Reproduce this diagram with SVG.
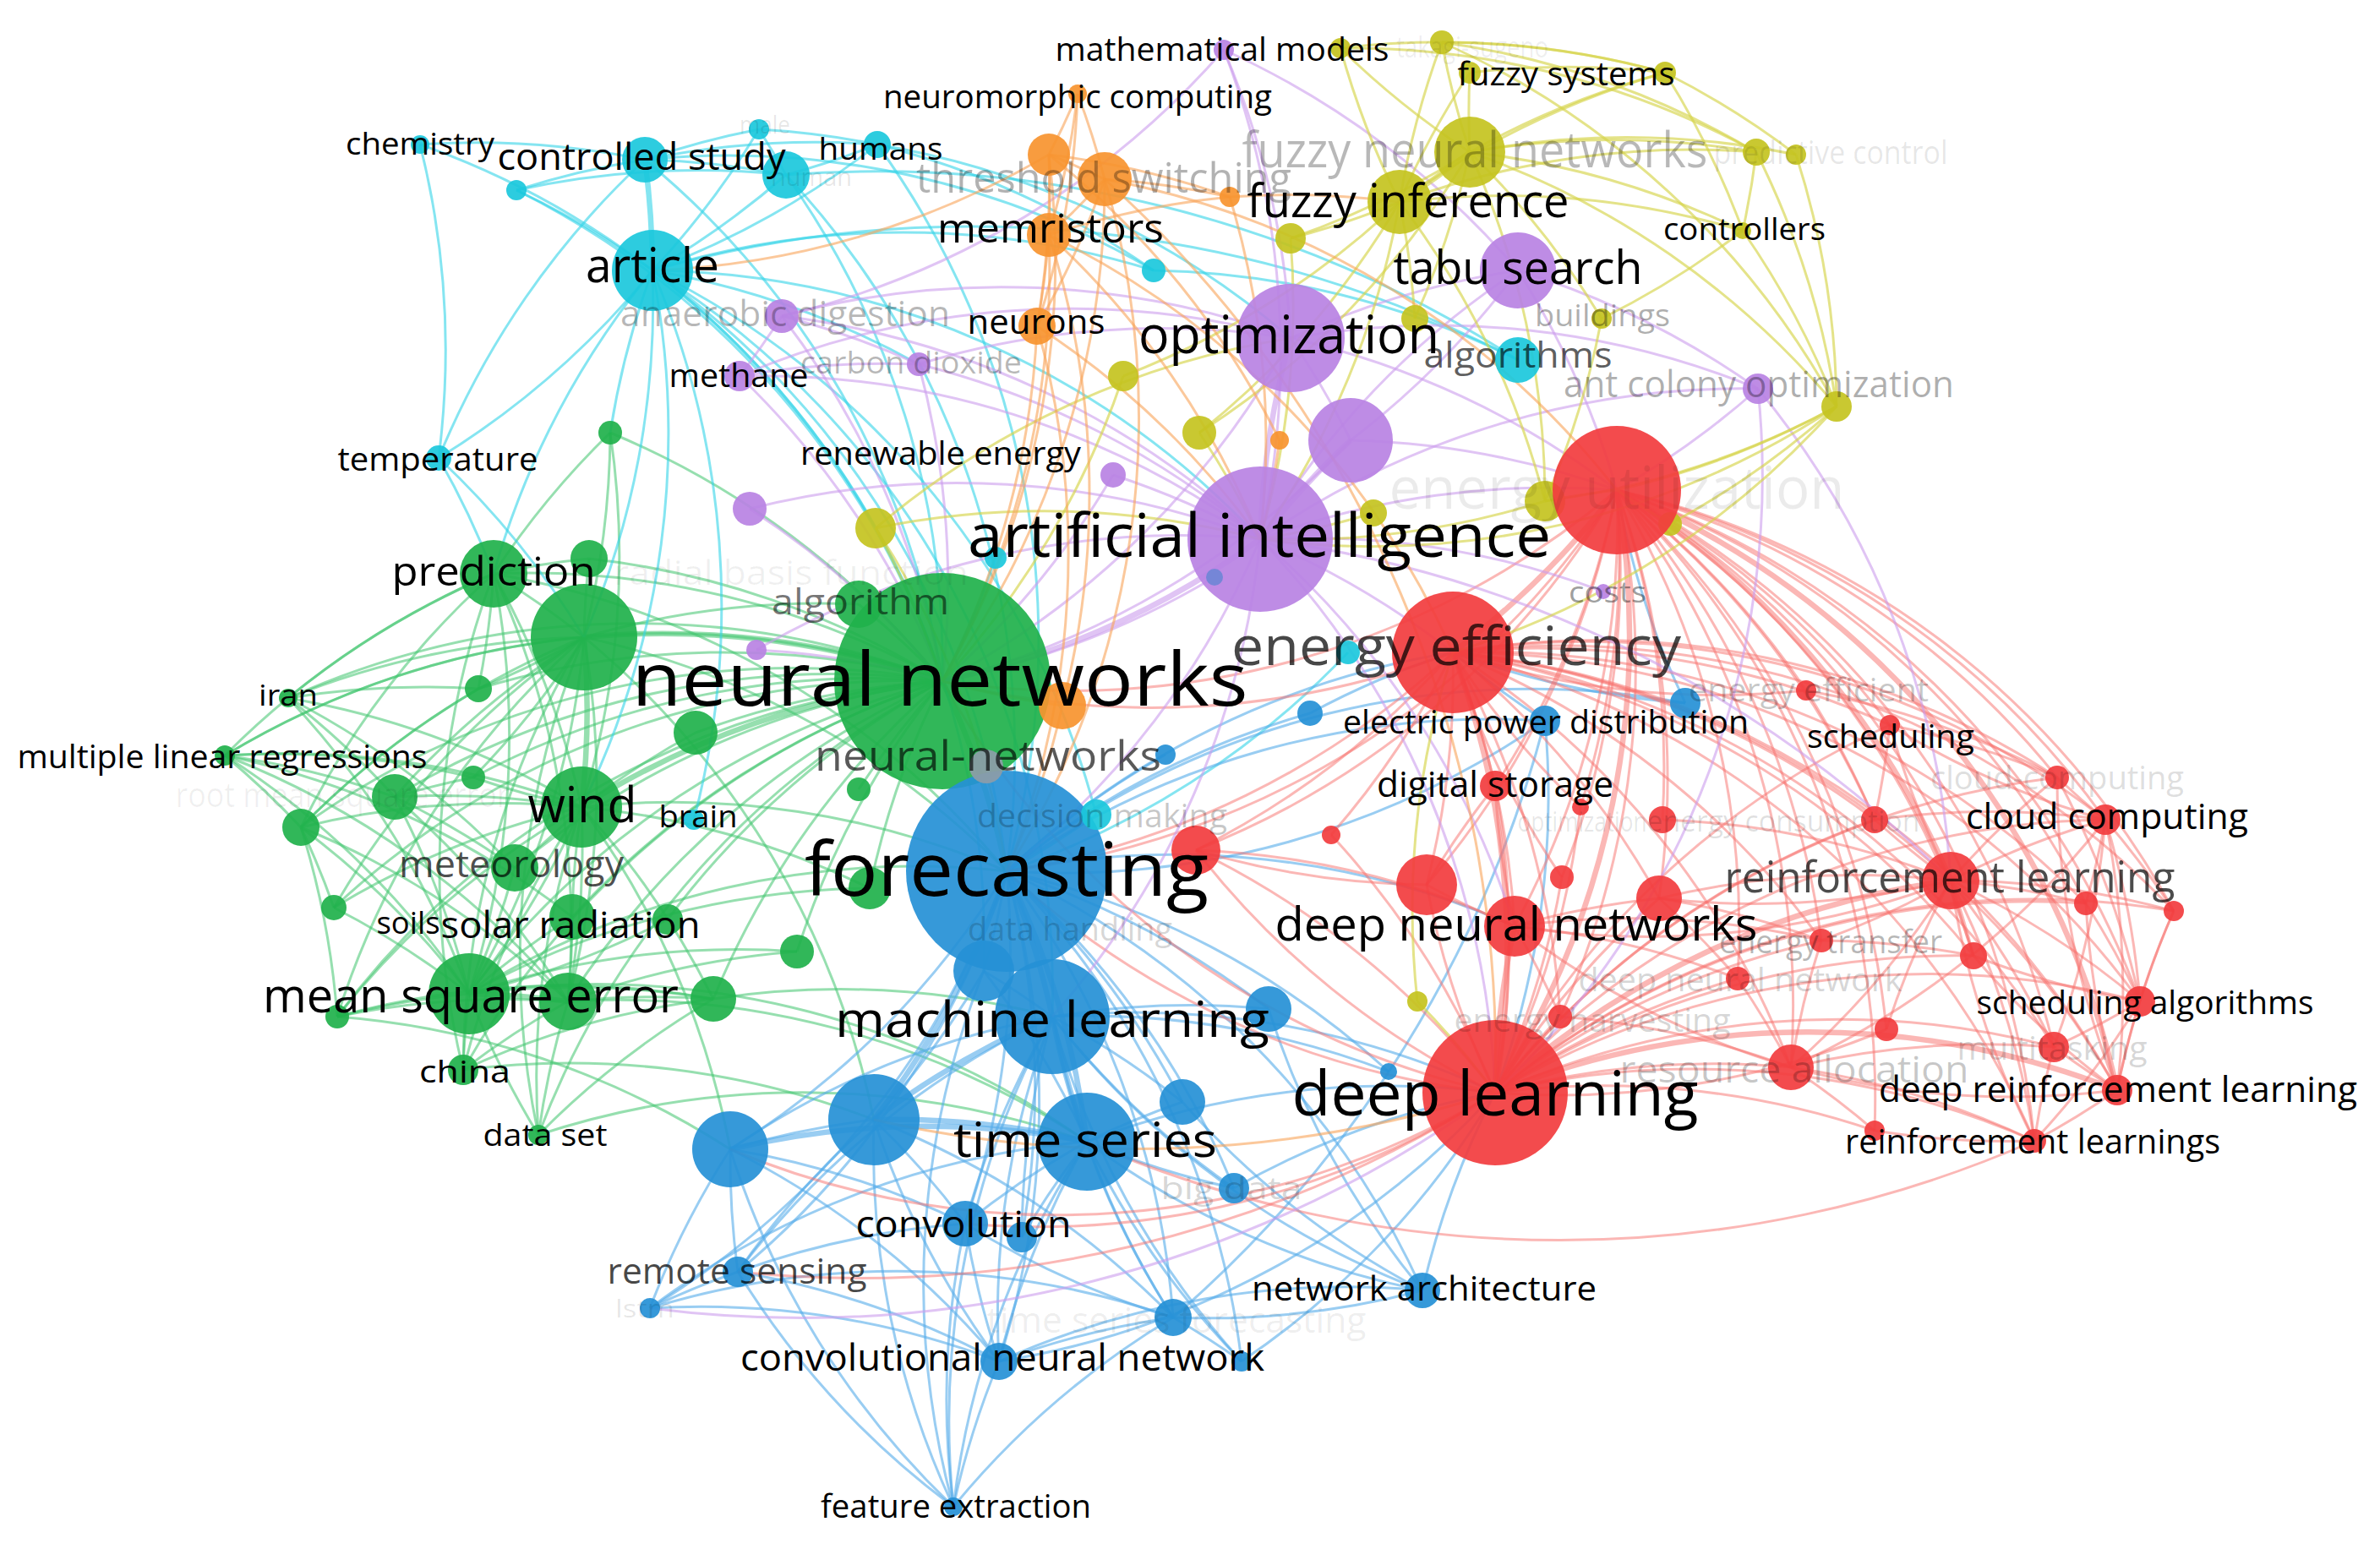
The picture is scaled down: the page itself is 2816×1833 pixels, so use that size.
<svg xmlns="http://www.w3.org/2000/svg" width="2816" height="1833" viewBox="0 0 2816 1833">
<style>
.e path{fill:none;stroke-width:3}
.e .t{stroke-width:6.5}
.g path{stroke:#3fc46e;stroke-opacity:.55}
.c path{stroke:#33d3e8;stroke-opacity:.6}
.b path{stroke:#55acea;stroke-opacity:.6}
.r path{stroke:#f7706c;stroke-opacity:.5}
.p path{stroke:#cc9ded;stroke-opacity:.6}
.y path{stroke:#d6d44a;stroke-opacity:.65}
.o path{stroke:#f9a458;stroke-opacity:.6}
circle{fill-opacity:.92}
.R{fill:#f23c3e}.G{fill:#20b14b}.B{fill:#2590d6}.C{fill:#1bc8dc}.P{fill:#b982e3}.Y{fill:#c4c31f}.O{fill:#f7942f}
text{font-family:"Open Sans","Noto Sans","DejaVu Sans",sans-serif;text-anchor:middle;fill:#000}
</style>
<g id="connectors" class="e">
<g class="g">
<path d="M341 826A1000 1000 0 0 1 691 754"/><path d="M341 826A1000 1000 0 0 1 1115 806"/><path d="M341 826A1000 1000 0 0 1 688 955"/><path d="M341 826A1000 1000 0 0 1 555 1176"/><path d="M341 826A1000 1000 0 0 1 584 679"/><path d="M341 826A1000 1000 0 0 1 467 943"/><path d="M341 826A1000 1000 0 0 1 609 1027"/><path d="M341 826A1000 1000 0 0 1 566 815"/>
<path d="M266 894A1000 1000 0 0 1 691 754"/><path d="M266 894A1000 1000 0 0 1 1115 806"/><path d="M266 894A1000 1000 0 0 1 688 955"/><path d="M266 894A1000 1000 0 0 1 555 1176"/><path d="M266 894A1000 1000 0 0 1 467 943"/><path d="M266 894A1000 1000 0 0 1 356 979"/><path d="M266 894A1000 1000 0 0 1 584 679"/><path d="M266 894A1000 1000 0 0 1 672 1185"/><path d="M266 894A1000 1000 0 0 1 677 1085"/><path d="M266 894A1000 1000 0 0 1 560 920"/>
<path d="M356 979A1000 1000 0 0 1 691 754"/><path d="M356 979A1000 1000 0 0 1 1115 806"/><path d="M356 979A1000 1000 0 0 1 688 955"/><path d="M356 979A1000 1000 0 0 1 555 1176"/><path d="M356 979A1000 1000 0 0 1 399 1203"/><path d="M356 979A1000 1000 0 0 1 395 1074"/><path d="M356 979A1000 1000 0 0 1 584 679"/><path d="M356 979A1000 1000 0 0 1 672 1185"/><path d="M356 979A1000 1000 0 0 1 566 815"/>
<path d="M467 943A1000 1000 0 0 1 691 754"/><path d="M467 943A1000 1000 0 0 1 1115 806"/><path d="M467 943A1000 1000 0 0 1 688 955"/><path d="M467 943A1000 1000 0 0 1 555 1176"/><path d="M467 943A1000 1000 0 0 1 609 1027"/><path d="M467 943A1000 1000 0 0 1 672 1185"/><path d="M467 943A1000 1000 0 0 1 560 920"/>
<path d="M395 1074A1000 1000 0 0 1 691 754"/><path d="M395 1074A1000 1000 0 0 1 1115 806"/><path d="M395 1074A1000 1000 0 0 1 555 1176"/><path d="M395 1074A1000 1000 0 0 1 688 955"/>
<path d="M399 1203A1000 1000 0 0 1 1115 806"/><path d="M399 1203A1000 1000 0 0 1 691 754"/><path d="M399 1203A1000 1000 0 0 1 555 1176"/><path d="M399 1203A1000 1000 0 0 1 688 955"/><path d="M399 1203A1000 1000 0 0 1 672 1185"/><path d="M399 1203A1000 1000 0 0 1 844 1182"/>
<path d="M548 1266A1000 1000 0 0 1 691 754"/><path d="M548 1266A1000 1000 0 0 1 1115 806"/><path d="M548 1266A1000 1000 0 0 1 688 955"/><path d="M548 1266A1000 1000 0 0 1 555 1176"/><path d="M548 1266A1000 1000 0 0 1 672 1185"/><path d="M548 1266A1000 1000 0 0 1 584 679"/><path d="M548 1266A1000 1000 0 0 1 844 1182"/>
<path d="M637 1343A1000 1000 0 0 1 1115 806"/><path d="M637 1343A1000 1000 0 0 1 691 754"/><path d="M637 1343A1000 1000 0 0 1 688 955"/><path d="M637 1343A1000 1000 0 0 1 555 1176"/><path d="M637 1343A1000 1000 0 0 1 672 1185"/><path d="M637 1343A1000 1000 0 0 1 844 1182"/>
<path d="M584 679A1000 1000 0 0 1 1115 806"/><path d="M584 679A1000 1000 0 0 1 691 754"/><path d="M584 679A1000 1000 0 0 1 688 955"/><path d="M584 679A1000 1000 0 0 1 555 1176"/><path d="M584 679A1000 1000 0 0 1 672 1185"/><path d="M584 679A1000 1000 0 0 1 722 512"/><path d="M584 679A1000 1000 0 0 1 697 661"/><path d="M584 679A1000 1000 0 0 1 566 815"/>
<path class="t" d="M691 754A1000 1000 0 0 1 1115 806"/><path class="t" d="M691 754A1000 1000 0 0 1 688 955"/><path d="M691 754A1000 1000 0 0 1 555 1176"/><path d="M691 754A1000 1000 0 0 1 672 1185"/><path d="M691 754A1000 1000 0 0 1 697 661"/><path d="M691 754A1000 1000 0 0 1 1016 715"/><path d="M691 754A1000 1000 0 0 1 566 815"/><path d="M691 754A1000 1000 0 0 1 560 920"/>
<path class="t" d="M688 955A1000 1000 0 0 1 1115 806"/><path d="M688 955A1000 1000 0 0 1 555 1176"/><path d="M688 955A1000 1000 0 0 1 672 1185"/><path d="M688 955A1000 1000 0 0 1 609 1027"/><path d="M688 955A1000 1000 0 0 1 844 1182"/><path d="M688 955A1000 1000 0 0 1 560 920"/><path d="M688 955A1000 1000 0 0 1 823 867"/><path d="M688 955A1000 1000 0 0 1 1029 1051"/>
<path d="M555 1176A1000 1000 0 0 1 1115 806"/><path class="t" d="M555 1176A1000 1000 0 0 1 672 1185"/><path d="M555 1176A1000 1000 0 0 1 844 1182"/><path d="M555 1176A1000 1000 0 0 1 943 1126"/><path d="M555 1176A1000 1000 0 0 1 677 1085"/><path d="M555 1176A1000 1000 0 0 1 1029 1051"/><path d="M609 1027A1000 1000 0 0 1 555 1176"/><path d="M790 1088A1000 1000 0 0 1 555 1176"/>
<path d="M672 1185A1000 1000 0 0 1 1115 806"/><path d="M672 1185A1000 1000 0 0 1 844 1182"/><path d="M672 1185A1000 1000 0 0 1 943 1126"/><path d="M844 1182A1000 1000 0 0 1 1115 806"/><path d="M943 1126A1000 1000 0 0 1 1115 806"/><path d="M1029 1051A1000 1000 0 0 1 1115 806"/><path d="M823 867A1000 1000 0 0 1 1115 806"/><path d="M566 815A1000 1000 0 0 1 1115 806"/><path d="M560 920A1000 1000 0 0 1 1115 806"/><path d="M609 1027A1000 1000 0 0 1 1115 806"/><path d="M677 1085A1000 1000 0 0 1 1115 806"/><path d="M790 1088A1000 1000 0 0 1 1115 806"/><path d="M677 1085A1000 1000 0 0 1 688 955"/><path d="M677 1085A1000 1000 0 0 1 672 1185"/><path d="M1016 934A1000 1000 0 0 1 1115 806"/><path d="M1016 715A1000 1000 0 0 1 1115 806"/>
<path d="M722 512A1000 1000 0 0 1 1115 806"/><path d="M722 512A1000 1000 0 0 1 691 754"/><path d="M722 512A1000 1000 0 0 1 688 955"/><path d="M697 661A1000 1000 0 0 1 1115 806"/>
<path d="M555 1176A1000 1000 0 0 1 1286 1351"/><path d="M691 754A1000 1000 0 0 1 1034 1325"/><path d="M688 955A1000 1000 0 0 1 864 1360"/><path d="M672 1185A1000 1000 0 0 1 1286 1351"/><path d="M555 1176A1000 1000 0 0 1 1191 1031"/><path d="M688 955A1000 1000 0 0 1 1191 1031"/><path d="M691 754A1000 1000 0 0 1 1191 1031"/><path d="M584 679A1000 1000 0 0 1 1191 1031"/><path d="M548 1266A1000 1000 0 0 1 1034 1325"/><path d="M399 1203A1000 1000 0 0 1 864 1360"/><path class="t" d="M1115 806A1000 1000 0 0 1 1191 1031"/><path d="M637 1343A1000 1000 0 0 1 1286 1351"/><path d="M844 1182A1000 1000 0 0 1 1245 1203"/>
</g>
<g class="c">
<path d="M497 171A1000 1000 0 0 1 763 189"/><path d="M497 171A1000 1000 0 0 1 772 320"/><path class="t" d="M763 189A1000 1000 0 0 1 772 320"/><path d="M763 189A1000 1000 0 0 1 930 207"/><path d="M763 189A1000 1000 0 0 1 1038 171"/><path d="M763 189A1000 1000 0 0 1 898 153"/><path d="M611 225A1000 1000 0 0 1 763 189"/><path d="M611 225A1000 1000 0 0 1 772 320"/><path d="M611 225A1000 1000 0 0 1 930 207"/><path d="M930 207A1000 1000 0 0 1 772 320"/><path d="M1038 171A1000 1000 0 0 1 772 320"/><path d="M898 153A1000 1000 0 0 1 772 320"/><path d="M1038 171A1000 1000 0 0 1 930 207"/><path d="M898 153A1000 1000 0 0 1 930 207"/><path d="M1038 171A1000 1000 0 0 1 1365 320"/><path d="M772 320A1000 1000 0 0 1 1365 320"/><path d="M772 320A1000 1000 0 0 1 1115 806"/><path d="M772 320A1000 1000 0 0 1 1191 1031"/><path d="M772 320A1000 1000 0 0 1 691 754"/><path d="M772 320A1000 1000 0 0 1 519 542"/><path d="M519 542A1000 1000 0 0 1 763 189"/><path d="M772 320A1400 1400 0 0 1 1796 426"/><path d="M763 189A1000 1000 0 0 1 1115 806"/><path d="M930 207A1000 1000 0 0 1 1115 806"/><path d="M1038 171A1000 1000 0 0 1 1191 1031"/><path d="M1365 320A1000 1000 0 0 1 1796 426"/><path d="M772 320A1000 1000 0 0 1 688 955"/><path d="M772 320A1000 1000 0 0 1 821 970"/><path d="M930 207A1000 1000 0 0 1 1191 1031"/><path d="M772 320A1000 1000 0 0 1 1297 964"/><path d="M772 320A1000 1000 0 0 1 1245 1203"/><path d="M497 171A1000 1000 0 0 1 519 542"/><path d="M584 679A1000 1000 0 0 1 772 320"/><path d="M722 512A1000 1000 0 0 1 772 320"/><path d="M763 189A1000 1000 0 0 1 1365 320"/><path d="M930 207A1400 1400 0 0 1 1796 426"/><path d="M772 320A1000 1000 0 0 1 1491 638"/><path d="M519 542A1000 1000 0 0 1 691 754"/><path d="M519 542A1000 1000 0 0 1 584 679"/><path d="M1297 964A1000 1000 0 0 1 1191 1031"/><path d="M1595 772A1000 1000 0 0 1 1191 1031"/><path d="M1178 660A1000 1000 0 0 1 1115 806"/><path d="M611 225A1000 1000 0 0 1 1115 806"/><path d="M1038 171A1000 1000 0 0 1 1527 400"/><path d="M898 153A1000 1000 0 0 1 1038 171"/><path d="M772 320A1000 1000 0 0 1 1087 431"/><path d="M772 320A1000 1000 0 0 1 1164 1149"/>
</g>
<g class="b">
<path class="t" d="M1191 1031A1000 1000 0 0 1 1245 1203"/><path d="M1191 1031A1000 1000 0 0 1 1164 1149"/><path class="t" d="M1191 1031A1000 1000 0 0 1 1034 1325"/><path d="M1191 1031A1000 1000 0 0 1 864 1360"/><path class="t" d="M1191 1031A1000 1000 0 0 1 1286 1351"/><path d="M1191 1031A1000 1000 0 0 1 1399 1304"/><path d="M1191 1031A1000 1000 0 0 1 1501 1194"/><path d="M1191 1031A1000 1000 0 0 1 1550 844"/><path d="M1191 1031A1000 1000 0 0 1 1828 853"/><path d="M1191 1031A1000 1000 0 0 1 1994 832"/><path d="M1191 1031A1000 1000 0 0 1 1142 1448"/><path d="M1191 1031A1000 1000 0 0 1 873 1505"/><path d="M1191 1031A1000 1000 0 0 1 769 1548"/><path d="M1191 1031A1000 1000 0 0 1 1388 1559"/><path d="M1191 1031A1000 1000 0 0 1 1683 1527"/><path d="M1191 1031A1000 1000 0 0 1 1182 1611"/><path d="M1191 1031A1000 1000 0 0 1 1469 1611"/><path d="M1191 1031A1000 1000 0 0 1 1460 1406"/><path d="M1191 1031A1000 1000 0 0 1 1379 893"/><path d="M1191 1031A1000 1000 0 0 1 1643 1268"/><path d="M1191 1031A1000 1000 0 0 1 1209 1464"/>
<path d="M1128 1783A1000 1000 0 0 1 1182 1611"/><path d="M1128 1783A1000 1000 0 0 1 1142 1448"/><path d="M1128 1783A1000 1000 0 0 1 1286 1351"/><path d="M1128 1783A1000 1000 0 0 1 1034 1325"/><path d="M1128 1783A1000 1000 0 0 1 1245 1203"/><path d="M1128 1783A1000 1000 0 0 1 1388 1559"/><path d="M1128 1783A1000 1000 0 0 1 873 1505"/><path d="M1128 1783A1000 1000 0 0 1 1164 1149"/><path d="M1128 1783A1000 1000 0 0 1 864 1360"/>
<path d="M1182 1611A1000 1000 0 0 1 1142 1448"/><path d="M1182 1611A1000 1000 0 0 1 1286 1351"/><path d="M1182 1611A1000 1000 0 0 1 1245 1203"/><path d="M1182 1611A1000 1000 0 0 1 1034 1325"/><path d="M873 1505A1000 1000 0 0 1 1182 1611"/><path d="M769 1548A1000 1000 0 0 1 1182 1611"/><path d="M1182 1611A1000 1000 0 0 1 1388 1559"/><path d="M864 1360A1000 1000 0 0 1 1182 1611"/><path d="M1182 1611A1000 1000 0 0 1 1683 1527"/>
<path d="M873 1505A1000 1000 0 0 1 864 1360"/><path d="M873 1505A1000 1000 0 0 1 1034 1325"/><path d="M873 1505A1000 1000 0 0 1 1245 1203"/><path d="M873 1505A1000 1000 0 0 1 1142 1448"/><path d="M769 1548A1000 1000 0 0 1 873 1505"/><path d="M769 1548A1000 1000 0 0 1 864 1360"/><path d="M769 1548A1000 1000 0 0 1 1388 1559"/><path d="M769 1548A1000 1000 0 0 1 1286 1351"/>
<path d="M1683 1527A1000 1000 0 0 1 1286 1351"/><path d="M1683 1527A1000 1000 0 0 1 1245 1203"/><path d="M1683 1527A1000 1000 0 0 1 1388 1559"/><path d="M1683 1527A1000 1000 0 0 1 1501 1194"/><path d="M1683 1527A1000 1000 0 0 1 1399 1304"/>
<path d="M1388 1559A1000 1000 0 0 1 1286 1351"/><path d="M1388 1559A1000 1000 0 0 1 1245 1203"/><path d="M1388 1559A1000 1000 0 0 1 1142 1448"/><path d="M1388 1559A1000 1000 0 0 1 1469 1611"/>
<path class="t" d="M864 1360A1000 1000 0 0 1 1286 1351"/><path d="M864 1360A1000 1000 0 0 1 1245 1203"/><path d="M864 1360A1000 1000 0 0 1 1034 1325"/><path class="t" d="M1034 1325A1000 1000 0 0 1 1245 1203"/><path class="t" d="M1034 1325A1000 1000 0 0 1 1286 1351"/><path class="t" d="M1286 1351A1000 1000 0 0 1 1245 1203"/><path d="M1286 1351A1000 1000 0 0 1 1399 1304"/><path d="M1245 1203A1000 1000 0 0 1 1501 1194"/><path d="M1142 1448A1000 1000 0 0 1 1286 1351"/><path d="M1142 1448A1000 1000 0 0 1 1245 1203"/><path d="M1209 1464A1000 1000 0 0 1 1286 1351"/><path d="M1209 1464A1000 1000 0 0 1 1245 1203"/><path d="M1460 1406A1000 1000 0 0 1 1286 1351"/><path d="M1460 1406A1000 1000 0 0 1 1245 1203"/><path d="M1469 1611A1000 1000 0 0 1 1286 1351"/><path d="M1469 1611A1000 1000 0 0 1 1245 1203"/><path d="M1245 1203A1000 1000 0 0 1 1399 1304"/><path d="M1245 1203A1000 1000 0 0 1 1643 1268"/><path d="M1034 1325A1000 1000 0 0 1 1142 1448"/><path d="M1034 1325A1000 1000 0 0 1 1388 1559"/><path d="M864 1360A1000 1000 0 0 1 1142 1448"/><path d="M1164 1149A1000 1000 0 0 1 1034 1325"/>
<path d="M1191 1031A1000 1000 0 0 1 1792 1096"/><path d="M1191 1031A1000 1000 0 0 1 1719 772"/><path d="M1245 1203A1000 1000 0 0 1 1769 1293"/><path d="M1286 1351A1000 1000 0 0 1 1769 1293"/><path d="M1164 1149A1000 1000 0 0 1 1245 1203"/><path d="M1164 1149A1000 1000 0 0 1 1286 1351"/><path d="M1828 853A1000 1000 0 0 1 1719 772"/><path d="M1994 832A1000 1000 0 0 1 1913 580"/><path d="M1828 853A1000 1000 0 0 1 1769 1293"/><path d="M1550 844A1000 1000 0 0 1 1719 772"/><path d="M1683 1527A1000 1000 0 0 1 1769 1293"/><path d="M1460 1406A1000 1000 0 0 1 1769 1293"/><path d="M1994 832A1000 1000 0 0 1 1719 772"/><path d="M1828 853A1000 1000 0 0 1 1191 1031"/><path d="M1769 1293A1000 1000 0 0 1 1182 1611"/><path d="M1769 1293A1000 1000 0 0 1 1469 1611"/><path d="M1828 853A1400 1400 0 0 1 1388 1559"/>
</g>
<g class="r">
<path class="t" d="M1913 580A1000 1000 0 0 1 1719 772"/><path class="t" d="M1913 580A1000 1000 0 0 1 1769 1293"/><path d="M1913 580A1000 1000 0 0 1 1792 1096"/><path d="M1913 580A1000 1000 0 0 1 1688 1047"/><path d="M1913 580A1000 1000 0 0 1 1963 1063"/><path class="t" d="M1913 580A1000 1000 0 0 1 2308 1042"/><path d="M1913 580A1000 1000 0 0 1 2491 970"/><path d="M1913 580A1000 1000 0 0 1 2434 920"/><path d="M1913 580A1000 1000 0 0 1 2236 858"/><path d="M1913 580A1000 1000 0 0 1 2137 817"/><path d="M1913 580A1000 1000 0 0 1 2218 970"/><path class="t" d="M1913 580A1000 1000 0 0 1 2505 1290"/><path d="M1913 580A1000 1000 0 0 1 2532 1185"/><path d="M1913 580A1000 1000 0 0 1 2119 1263"/><path d="M1913 580A1000 1000 0 0 1 2430 1239"/><path d="M1913 580A1000 1000 0 0 1 2155 1113"/><path d="M1913 580A1000 1000 0 0 1 2335 1131"/><path d="M1913 580A1000 1000 0 0 1 2572 1078"/><path d="M1913 580A1000 1000 0 0 1 2407 1350"/><path d="M1913 580A1000 1000 0 0 1 1769 930"/><path d="M1913 580A1000 1000 0 0 1 1415 1006"/><path d="M1913 580A1000 1000 0 0 1 1115 806"/><path d="M1913 580A1000 1000 0 0 1 1191 1031"/><path d="M1913 580A1000 1000 0 0 1 2468 1069"/><path d="M1913 580A1000 1000 0 0 1 2056 1158"/><path d="M1913 580A1000 1000 0 0 1 1846 1203"/><path d="M1913 580A1000 1000 0 0 1 1967 970"/><path d="M1913 580A1000 1000 0 0 1 1848 1038"/><path d="M1913 580A1000 1000 0 0 1 1870 955"/><path d="M1913 580A1000 1000 0 0 1 2232 1218"/><path d="M1913 580A1000 1000 0 0 1 2218 1338"/>
<path class="t" d="M1719 772A1000 1000 0 0 1 1769 1293"/><path d="M1719 772A1000 1000 0 0 1 1792 1096"/><path d="M1719 772A1000 1000 0 0 1 1688 1047"/><path d="M1719 772A1000 1000 0 0 1 1769 930"/><path d="M1719 772A1000 1000 0 0 1 2308 1042"/><path d="M1719 772A1000 1000 0 0 1 2491 970"/><path d="M1719 772A1000 1000 0 0 1 2236 858"/><path d="M1719 772A1000 1000 0 0 1 1963 1063"/><path d="M1719 772A1000 1000 0 0 1 2119 1263"/><path d="M1719 772A1000 1000 0 0 1 2505 1290"/><path d="M1719 772A1000 1000 0 0 1 1846 1203"/><path d="M1719 772A1000 1000 0 0 1 1415 1006"/><path d="M1719 772A1000 1000 0 0 1 1191 1031"/><path d="M1719 772A1000 1000 0 0 1 1115 806"/><path d="M1719 772A1000 1000 0 0 1 2218 970"/><path d="M1719 772A1000 1000 0 0 1 1575 988"/><path d="M1719 772A1000 1000 0 0 1 2434 920"/><path d="M1719 772A1000 1000 0 0 1 2468 1069"/><path d="M1719 772A1000 1000 0 0 1 2572 1078"/><path d="M1719 772A1000 1000 0 0 1 2155 1113"/><path d="M1719 772A1000 1000 0 0 1 2335 1131"/><path d="M1719 772A1000 1000 0 0 1 2430 1239"/><path d="M1719 772A1000 1000 0 0 1 2532 1185"/><path d="M1719 772A1000 1000 0 0 1 2407 1350"/><path d="M2137 817A1000 1000 0 0 1 1719 772"/><path d="M1848 1038A1000 1000 0 0 1 1719 772"/><path d="M1870 955A1000 1000 0 0 1 1719 772"/>
<path class="t" d="M1769 1293A1000 1000 0 0 1 1792 1096"/><path d="M1769 1293A1000 1000 0 0 1 1688 1047"/><path d="M1769 1293A1000 1000 0 0 1 1963 1063"/><path class="t" d="M1769 1293A1000 1000 0 0 1 2308 1042"/><path d="M1769 1293A1000 1000 0 0 1 2491 970"/><path class="t" d="M1769 1293A1000 1000 0 0 1 2505 1290"/><path d="M1769 1293A1000 1000 0 0 1 2407 1350"/><path d="M1769 1293A1000 1000 0 0 1 2119 1263"/><path d="M1769 1293A1000 1000 0 0 1 2532 1185"/><path d="M1769 1293A1000 1000 0 0 1 2430 1239"/><path d="M1769 1293A1000 1000 0 0 1 1846 1203"/><path d="M1769 1293A1000 1000 0 0 1 2056 1158"/><path d="M1769 1293A1000 1000 0 0 1 2155 1113"/><path d="M1769 1293A1000 1000 0 0 1 2335 1131"/><path d="M1769 1293A1000 1000 0 0 1 2218 1338"/><path d="M1769 1293A1000 1000 0 0 1 1415 1006"/><path d="M1769 1293A1000 1000 0 0 1 1191 1031"/><path d="M1769 1293A1000 1000 0 0 1 1115 806"/><path d="M1769 1293A1000 1000 0 0 1 2572 1078"/><path d="M1769 1293A1000 1000 0 0 1 2218 970"/><path d="M1769 1293A1000 1000 0 0 1 2236 858"/><path d="M1769 1293A1000 1000 0 0 1 2434 920"/><path d="M1769 1293A1000 1000 0 0 1 2468 1069"/><path d="M1769 930A1000 1000 0 0 1 1769 1293"/><path d="M1575 988A1000 1000 0 0 1 1769 1293"/><path d="M1415 1006A1000 1000 0 0 1 1769 1293"/><path d="M1769 1293A1000 1000 0 0 1 1142 1448"/><path d="M1769 1293A1000 1000 0 0 1 864 1360"/><path d="M1769 1293A1400 1400 0 0 1 873 1505"/><path d="M2407 1350A1400 1400 0 0 1 1286 1351"/>
<path d="M2308 1042A1000 1000 0 0 1 2491 970"/><path d="M2308 1042A1000 1000 0 0 1 2434 920"/><path d="M2308 1042A1000 1000 0 0 1 2505 1290"/><path d="M2308 1042A1000 1000 0 0 1 2532 1185"/><path d="M2308 1042A1000 1000 0 0 1 2430 1239"/><path d="M2308 1042A1000 1000 0 0 1 2407 1350"/><path d="M2308 1042A1000 1000 0 0 1 2468 1069"/><path d="M2308 1042A1000 1000 0 0 1 2572 1078"/><path d="M2308 1042A1000 1000 0 0 1 2335 1131"/><path d="M2308 1042A1000 1000 0 0 1 2236 858"/><path d="M2308 1042A1000 1000 0 0 1 2119 1263"/><path d="M2308 1042A1000 1000 0 0 1 2155 1113"/><path d="M2308 1042A1000 1000 0 0 1 2218 970"/><path d="M2308 1042A1000 1000 0 0 1 1792 1096"/><path d="M2308 1042A1000 1000 0 0 1 1963 1063"/><path d="M2407 1350A1000 1000 0 0 1 2308 1042"/><path d="M2434 920A1000 1000 0 0 1 2532 1185"/>
<path d="M2491 970A1000 1000 0 0 1 2434 920"/><path d="M2491 970A1000 1000 0 0 1 2532 1185"/><path d="M2491 970A1000 1000 0 0 1 2505 1290"/><path d="M2491 970A1000 1000 0 0 1 2572 1078"/><path d="M2491 970A1000 1000 0 0 1 2236 858"/><path d="M2491 970A1000 1000 0 0 1 2468 1069"/><path d="M2491 970A1000 1000 0 0 1 2430 1239"/><path d="M2491 970A1000 1000 0 0 1 2119 1263"/><path d="M2218 970A1000 1000 0 0 1 2491 970"/>
<path d="M2505 1290A1000 1000 0 0 1 2532 1185"/><path d="M2505 1290A1000 1000 0 0 1 2430 1239"/><path d="M2505 1290A1000 1000 0 0 1 2407 1350"/><path d="M2505 1290A1000 1000 0 0 1 2572 1078"/><path d="M2505 1290A1000 1000 0 0 1 2119 1263"/><path d="M2505 1290A1000 1000 0 0 1 2468 1069"/><path d="M2505 1290A1000 1000 0 0 1 2335 1131"/><path d="M2505 1290A1000 1000 0 0 1 2434 920"/>
<path d="M2532 1185A1000 1000 0 0 1 2430 1239"/><path d="M2532 1185A1000 1000 0 0 1 2572 1078"/><path d="M2532 1185A1000 1000 0 0 1 2335 1131"/><path d="M2532 1185A1000 1000 0 0 1 2407 1350"/><path d="M2468 1069A1000 1000 0 0 1 2532 1185"/>
<path d="M2119 1263A1000 1000 0 0 1 2407 1350"/><path d="M2119 1263A1000 1000 0 0 1 1792 1096"/><path d="M2119 1263A1000 1000 0 0 1 2430 1239"/><path d="M2119 1263A1000 1000 0 0 1 2155 1113"/><path d="M2119 1263A1000 1000 0 0 1 2218 1338"/><path d="M2407 1350A1000 1000 0 0 1 2218 1338"/><path d="M2407 1350A1000 1000 0 0 1 2430 1239"/><path d="M2056 1158A1000 1000 0 0 1 2119 1263"/><path d="M1846 1203A1000 1000 0 0 1 2119 1263"/>
<path d="M1792 1096A1000 1000 0 0 1 1963 1063"/><path d="M1792 1096A1000 1000 0 0 1 1688 1047"/><path d="M1792 1096A1000 1000 0 0 1 2155 1113"/><path d="M1792 1096A1000 1000 0 0 1 2056 1158"/><path d="M1792 1096A1000 1000 0 0 1 1846 1203"/><path d="M1792 1096A1000 1000 0 0 1 1769 930"/><path d="M1688 1047A1000 1000 0 0 1 1415 1006"/><path d="M1688 1047A1000 1000 0 0 1 1769 930"/><path d="M1415 1006A1000 1000 0 0 1 1792 1096"/><path d="M1963 1063A1000 1000 0 0 1 2308 1042"/><path d="M1963 1063A1000 1000 0 0 1 2155 1113"/><path d="M1963 1063A1000 1000 0 0 1 2056 1158"/>
<path d="M2236 858A1000 1000 0 0 1 2434 920"/><path d="M2236 858A1000 1000 0 0 1 2218 970"/><path d="M2137 817A1000 1000 0 0 1 2434 920"/><path d="M2137 817A1000 1000 0 0 1 2218 970"/><path d="M1848 1038A1000 1000 0 0 1 1769 1293"/><path d="M1870 955A1000 1000 0 0 1 1769 1293"/><path d="M1967 970A1000 1000 0 0 1 2308 1042"/><path d="M2232 1218A1000 1000 0 0 1 1769 1293"/><path d="M2232 1218A1000 1000 0 0 1 2308 1042"/><path d="M2155 1113A1000 1000 0 0 1 2335 1131"/><path d="M2335 1131A1000 1000 0 0 1 2308 1042"/>
</g>
<g class="p">
<path class="t" d="M1491 638A1000 1000 0 0 1 1527 400"/><path class="t" d="M1491 638A1000 1000 0 0 1 1598 521"/><path d="M1491 638A1000 1000 0 0 1 1796 320"/><path d="M1491 638A1000 1000 0 0 1 2080 460"/><path class="t" d="M1491 638A1000 1000 0 0 1 1115 806"/><path d="M1491 638A1000 1000 0 0 1 1191 1031"/><path d="M925 374A1000 1000 0 0 1 1491 638"/><path d="M875 445A1000 1000 0 0 1 1491 638"/><path d="M1087 431A1000 1000 0 0 1 1491 638"/><path d="M887 602A1000 1000 0 0 1 1491 638"/><path d="M895 769A1000 1000 0 0 1 1491 638"/><path d="M1491 638A1000 1000 0 0 1 1897 700"/><path d="M1317 562A1000 1000 0 0 1 1491 638"/><path d="M1491 638A1000 1000 0 0 1 1913 580"/><path d="M1491 638A1000 1000 0 0 1 1769 1293"/><path d="M1491 638A1000 1000 0 0 1 1719 772"/><path d="M1491 638A1000 1000 0 0 1 1245 1203"/><path d="M1491 638A1000 1000 0 0 1 1792 1096"/><path d="M1491 638A1400 1400 0 0 1 2308 1042"/>
<path d="M1527 400A1000 1000 0 0 1 1796 320"/><path d="M1527 400A1000 1000 0 0 1 1598 521"/><path d="M1527 400A1000 1000 0 0 1 2080 460"/><path d="M1448 59A1000 1000 0 0 1 1527 400"/><path d="M925 374A1000 1000 0 0 1 1527 400"/><path d="M875 445A1000 1000 0 0 1 1527 400"/><path d="M1087 431A1000 1000 0 0 1 1527 400"/><path d="M1527 400A1000 1000 0 0 1 1115 806"/><path d="M1527 400A1000 1000 0 0 1 1913 580"/>
<path d="M1796 320A1000 1000 0 0 1 1598 521"/><path d="M1796 320A1000 1000 0 0 1 2080 460"/><path d="M1448 59A1000 1000 0 0 1 1796 320"/><path d="M1796 320A1000 1000 0 0 1 1913 580"/>
<path d="M925 374A1000 1000 0 0 1 875 445"/><path d="M925 374A1000 1000 0 0 1 1087 431"/><path d="M875 445A1000 1000 0 0 1 1087 431"/><path d="M887 602A1000 1000 0 0 1 1115 806"/><path d="M895 769A1000 1000 0 0 1 1115 806"/><path d="M1087 431A1000 1000 0 0 1 1115 806"/><path d="M1448 59A1000 1000 0 0 1 1491 638"/><path d="M2080 460A1000 1000 0 0 1 1913 580"/><path d="M2080 460A1000 1000 0 0 1 1769 1293"/><path d="M1598 521A1000 1000 0 0 1 1913 580"/><path d="M1598 521A1000 1000 0 0 1 1115 806"/><path d="M1448 59A1000 1000 0 0 1 925 374"/><path d="M1437 683A1000 1000 0 0 1 1115 806"/><path d="M925 374A1000 1000 0 0 1 1115 806"/><path d="M875 445A1000 1000 0 0 1 1115 806"/><path d="M1317 562A1000 1000 0 0 1 1115 806"/><path d="M2080 460A1000 1000 0 0 1 2308 1042"/><path d="M1769 1293A1400 1400 0 0 1 769 1548"/>
</g>
<g class="y">
<path class="t" d="M1739 180A1000 1000 0 0 1 1656 239"/><path d="M1739 180A1000 1000 0 0 1 1586 57"/><path d="M1739 180A1000 1000 0 0 1 1706 50"/><path d="M1739 180A1000 1000 0 0 1 1739 86"/><path d="M1739 180A1000 1000 0 0 1 1970 86"/><path d="M1739 180A1000 1000 0 0 1 2078 180"/><path d="M1739 180A1000 1000 0 0 1 2125 183"/><path d="M1739 180A1000 1000 0 0 1 2062 273"/><path d="M1739 180A1000 1000 0 0 1 1527 282"/><path d="M1739 180A1000 1000 0 0 1 1895 377"/><path d="M1739 180A1000 1000 0 0 1 1674 377"/><path d="M1739 180A1000 1000 0 0 1 2173 481"/><path d="M1739 180A1000 1000 0 0 1 1828 593"/><path d="M1739 180A1000 1000 0 0 1 1419 512"/>
<path d="M1656 239A1000 1000 0 0 1 1586 57"/><path d="M1656 239A1000 1000 0 0 1 1706 50"/><path d="M1656 239A1000 1000 0 0 1 1739 86"/><path d="M1656 239A1000 1000 0 0 1 1970 86"/><path d="M1656 239A1000 1000 0 0 1 1527 282"/><path d="M1656 239A1000 1000 0 0 1 2062 273"/><path d="M1656 239A1000 1000 0 0 1 2078 180"/><path d="M1656 239A1000 1000 0 0 1 1674 377"/><path d="M1656 239A1000 1000 0 0 1 1329 445"/><path d="M1656 239A1000 1000 0 0 1 1419 512"/><path d="M1656 239A1000 1000 0 0 1 1828 593"/><path d="M1656 239A1000 1000 0 0 1 1491 638"/>
<path d="M1739 86A1000 1000 0 0 1 1970 86"/><path d="M1706 50A1000 1000 0 0 1 1970 86"/><path d="M1586 57A1000 1000 0 0 1 1970 86"/><path d="M1706 50A1000 1000 0 0 1 2078 180"/><path d="M1970 86A1000 1000 0 0 1 2062 273"/><path d="M1970 86A1000 1000 0 0 1 2125 183"/><path d="M2078 180A1000 1000 0 0 1 2062 273"/><path d="M2125 183A1000 1000 0 0 1 2173 481"/><path d="M2078 180A1000 1000 0 0 1 2173 481"/><path d="M2062 273A1000 1000 0 0 1 2173 481"/><path d="M2062 273A1000 1000 0 0 1 1895 377"/><path d="M1895 377A1000 1000 0 0 1 1828 593"/>
<path d="M2173 481A1000 1000 0 0 1 1913 580"/><path d="M2173 481A1000 1000 0 0 1 1828 593"/><path d="M2173 481A1000 1000 0 0 1 1491 638"/><path d="M2173 481A1000 1000 0 0 1 1976 620"/><path d="M1828 593A1000 1000 0 0 1 1913 580"/><path d="M1828 593A1000 1000 0 0 1 1491 638"/><path d="M1976 620A1000 1000 0 0 1 1913 580"/><path d="M2173 481A1000 1000 0 0 1 1719 772"/>
<path d="M1036 625A1000 1000 0 0 1 1115 806"/><path d="M1036 625A1000 1000 0 0 1 1491 638"/><path d="M1036 625A1000 1000 0 0 1 1527 400"/><path d="M1329 445A1000 1000 0 0 1 1115 806"/><path d="M1419 512A1000 1000 0 0 1 1491 638"/><path d="M1625 607A1000 1000 0 0 1 1491 638"/><path d="M1677 1185A1000 1000 0 0 1 1769 1293"/><path d="M1677 1185A1000 1000 0 0 1 1719 772"/><path d="M1586 57A1000 1000 0 0 1 2078 180"/><path d="M1706 50A1000 1000 0 0 1 2173 481"/><path d="M1527 282A1000 1000 0 0 1 1491 638"/><path d="M1036 625A1000 1000 0 0 1 1191 1031"/>
</g>
<g class="o">
<path d="M1275 111A1000 1000 0 0 1 1241 183"/><path d="M1275 111A1000 1000 0 0 1 1307 212"/><path d="M1275 111A1000 1000 0 0 1 1241 278"/><path d="M1275 111A1000 1000 0 0 1 1227 386"/><path d="M1241 183A1000 1000 0 0 1 1307 212"/><path d="M1241 183A1000 1000 0 0 1 1241 278"/><path d="M1307 212A1000 1000 0 0 1 1241 278"/><path d="M1307 212A1000 1000 0 0 1 1227 386"/><path d="M1241 183A1000 1000 0 0 1 1227 386"/><path d="M1241 278A1000 1000 0 0 1 1227 386"/><path d="M1307 212A1000 1000 0 0 1 1455 233"/><path d="M1241 183A1000 1000 0 0 1 1455 233"/><path d="M1241 278A1000 1000 0 0 1 1455 233"/><path d="M1241 278A1000 1000 0 0 1 1115 806"/><path d="M1227 386A1000 1000 0 0 1 1115 806"/><path d="M1307 212A1000 1000 0 0 1 1115 806"/><path d="M1455 233A1000 1000 0 0 1 1491 638"/><path d="M1514 521A1000 1000 0 0 1 1491 638"/><path d="M1257 835A1000 1000 0 0 1 1115 806"/><path d="M1241 278A1000 1000 0 0 1 1491 638"/><path d="M1227 386A1000 1000 0 0 1 1491 638"/><path d="M1307 212A1000 1000 0 0 1 1191 1031"/><path d="M1241 278A1000 1000 0 0 1 1719 772"/><path d="M1241 183A1000 1000 0 0 1 1514 521"/><path d="M1241 278A1000 1000 0 0 1 1257 835"/><path d="M1455 233A1000 1000 0 0 1 1656 239"/><path d="M1241 183A1000 1000 0 0 1 772 320"/><path d="M1227 386A1000 1000 0 0 1 1191 1031"/><path d="M1307 212A1400 1400 0 0 1 1769 1293"/><path d="M1241 183A1000 1000 0 0 1 1115 806"/><path d="M1257 835A1000 1000 0 0 1 1191 1031"/><path d="M1307 212A1000 1000 0 0 1 1913 580"/><path d="M1769 1293A1400 1400 0 0 1 1034 1325"/>
</g>
</g>
<g id="nodes">
<g id="n-takagi-sugeno"><circle class="Y" cx="1706" cy="50" r="14"/></g>
<g id="n-y1"><circle class="Y" cx="1586" cy="57" r="12"/></g>
<g id="n-fuzzy-systems"><circle class="Y" cx="1739" cy="86" r="13"/></g>
<g id="n-fuzzy-systems-2"><circle class="Y" cx="1970" cy="86" r="13"/></g>
<g id="n-fuzzy-neural-networks"><circle class="Y" cx="1739" cy="180" r="42"/></g>
<g id="n-fuzzy-inference"><circle class="Y" cx="1656" cy="239" r="38"/></g>
<g id="n-y3"><circle class="Y" cx="1527" cy="282" r="18"/></g>
<g id="n-predictive-control"><circle class="Y" cx="2078" cy="180" r="16"/></g>
<g id="n-y5"><circle class="Y" cx="2125" cy="183" r="12"/></g>
<g id="n-controllers"><circle class="Y" cx="2062" cy="273" r="10"/></g>
<g id="n-buildings"><circle class="Y" cx="1895" cy="377" r="12"/></g>
<g id="n-y7"><circle class="Y" cx="1674" cy="377" r="16"/></g>
<g id="n-y8"><circle class="Y" cx="1329" cy="445" r="18"/></g>
<g id="n-y9"><circle class="Y" cx="1419" cy="512" r="20"/></g>
<g id="n-y10"><circle class="Y" cx="2173" cy="481" r="18"/></g>
<g id="n-y11"><circle class="Y" cx="1828" cy="593" r="24"/></g>
<g id="n-y12"><circle class="Y" cx="1976" cy="620" r="14"/></g>
<g id="n-y13"><circle class="Y" cx="1625" cy="607" r="16"/></g>
<g id="n-radial-basis-function"><circle class="Y" cx="1036" cy="625" r="24"/></g>
<g id="n-y15"><circle class="Y" cx="1677" cy="1185" r="12"/></g>
<g id="n-mathematical-models"><circle class="P" cx="1448" cy="59" r="12"/></g>
<g id="n-optimization"><circle class="P" cx="1527" cy="400" r="64"/></g>
<g id="n-tabu-search"><circle class="P" cx="1796" cy="320" r="45"/></g>
<g id="n-p1"><circle class="P" cx="1598" cy="521" r="50"/></g>
<g id="n-ant-colony-optimization"><circle class="P" cx="2080" cy="460" r="18"/></g>
<g id="n-costs"><circle class="P" cx="1897" cy="700" r="9"/></g>
<g id="n-anaerobic-digestion"><circle class="P" cx="925" cy="374" r="20"/></g>
<g id="n-methane"><circle class="P" cx="875" cy="445" r="18"/></g>
<g id="n-carbon-dioxide"><circle class="P" cx="1087" cy="431" r="14"/></g>
<g id="n-p2"><circle class="P" cx="1317" cy="562" r="15"/></g>
<g id="n-p3"><circle class="P" cx="887" cy="602" r="20"/></g>
<g id="n-p4"><circle class="P" cx="895" cy="769" r="12"/></g>
<g id="n-artificial-intelligence"><circle class="P" cx="1491" cy="638" r="86"/></g>
<g id="n-b13"><circle cx="1437" cy="683" r="10" fill="#6f86d6"/></g>
<g id="n-neuromorphic-computing"><circle class="O" cx="1275" cy="111" r="11"/></g>
<g id="n-o2"><circle class="O" cx="1241" cy="183" r="25"/></g>
<g id="n-threshold-switching"><circle class="O" cx="1307" cy="212" r="32"/></g>
<g id="n-memristors"><circle class="O" cx="1241" cy="278" r="26"/></g>
<g id="n-neurons"><circle class="O" cx="1227" cy="386" r="22"/></g>
<g id="n-o4"><circle class="O" cx="1455" cy="233" r="12"/></g>
<g id="n-o5"><circle class="O" cx="1514" cy="521" r="11"/></g>
<g id="n-chemistry"><circle class="C" cx="497" cy="171" r="11"/></g>
<g id="n-controlled-study"><circle class="C" cx="763" cy="189" r="27"/></g>
<g id="n-c611"><circle class="C" cx="611" cy="225" r="12"/></g>
<g id="n-male"><circle class="C" cx="898" cy="153" r="12"/></g>
<g id="n-human"><circle class="C" cx="930" cy="207" r="28"/></g>
<g id="n-humans"><circle class="C" cx="1038" cy="171" r="16"/></g>
<g id="n-article"><circle class="C" cx="772" cy="320" r="48"/></g>
<g id="n-temperature"><circle class="C" cx="519" cy="542" r="15"/></g>
<g id="n-c1365"><circle class="C" cx="1365" cy="320" r="14"/></g>
<g id="n-algorithms"><circle class="C" cx="1796" cy="426" r="27"/></g>
<g id="n-c1178"><circle class="C" cx="1178" cy="660" r="13"/></g>
<g id="n-neural-networks"><circle class="G" cx="1115" cy="806" r="128"/></g>
<g id="n-g2"><circle class="G" cx="691" cy="754" r="63"/></g>
<g id="n-prediction"><circle class="G" cx="584" cy="679" r="40"/></g>
<g id="n-g697"><circle class="G" cx="697" cy="661" r="22"/></g>
<g id="n-g722"><circle class="G" cx="722" cy="512" r="14"/></g>
<g id="n-algorithm"><circle class="G" cx="1016" cy="715" r="28"/></g>
<g id="n-wind"><circle class="G" cx="688" cy="955" r="48"/></g>
<g id="n-g566"><circle class="G" cx="566" cy="815" r="16"/></g>
<g id="n-g823"><circle class="G" cx="823" cy="867" r="26"/></g>
<g id="n-iran"><circle class="G" cx="341" cy="826" r="11"/></g>
<g id="n-multiple-linear-regressions"><circle class="G" cx="266" cy="894" r="12"/></g>
<g id="n-g560"><circle class="G" cx="560" cy="920" r="14"/></g>
<g id="n-root-mean-square-error"><circle class="G" cx="467" cy="943" r="27"/></g>
<g id="n-g356"><circle class="G" cx="356" cy="979" r="22"/></g>
<g id="n-meteorology"><circle class="G" cx="609" cy="1027" r="28"/></g>
<g id="n-soils"><circle class="G" cx="395" cy="1074" r="15"/></g>
<g id="n-solar-radiation"><circle class="G" cx="677" cy="1085" r="27"/></g>
<g id="n-g790"><circle class="G" cx="790" cy="1088" r="18"/></g>
<g id="n-mean-square-error"><circle class="G" cx="555" cy="1176" r="48"/></g>
<g id="n-g674"><circle class="G" cx="672" cy="1185" r="34"/></g>
<g id="n-g844"><circle class="G" cx="844" cy="1182" r="27"/></g>
<g id="n-g943"><circle class="G" cx="943" cy="1126" r="20"/></g>
<g id="n-g1016b"><circle class="G" cx="1016" cy="934" r="14"/></g>
<g id="n-g1029"><circle class="G" cx="1029" cy="1051" r="25"/></g>
<g id="n-china"><circle class="G" cx="548" cy="1266" r="18"/></g>
<g id="n-g399"><circle class="G" cx="399" cy="1203" r="14"/></g>
<g id="n-data-set"><circle class="G" cx="637" cy="1343" r="12"/></g>
<g id="n-o6"><circle class="O" cx="1257" cy="835" r="28"/></g>
<g id="n-forecasting"><circle class="B" cx="1191" cy="1031" r="119"/></g>
<g id="n-neural-networks-2"><circle cx="1167" cy="907" r="20" fill="#8d9ca8"/></g>
<g id="n-machine-learning"><circle class="B" cx="1245" cy="1203" r="68"/></g>
<g id="n-b1"><circle class="B" cx="1164" cy="1149" r="36"/></g>
<g id="n-b2"><circle class="B" cx="1034" cy="1325" r="54"/></g>
<g id="n-b3"><circle class="B" cx="864" cy="1360" r="45"/></g>
<g id="n-time-series"><circle class="B" cx="1286" cy="1351" r="58"/></g>
<g id="n-b4"><circle class="B" cx="1399" cy="1304" r="27"/></g>
<g id="n-b5"><circle class="B" cx="1501" cy="1194" r="27"/></g>
<g id="n-b6"><circle class="B" cx="1550" cy="844" r="15"/></g>
<g id="n-electric-power-distribution"><circle class="B" cx="1828" cy="853" r="18"/></g>
<g id="n-b7"><circle class="B" cx="1994" cy="832" r="18"/></g>
<g id="n-b8"><circle class="B" cx="1379" cy="893" r="12"/></g>
<g id="n-b9"><circle class="B" cx="1643" cy="1268" r="10"/></g>
<g id="n-big-data"><circle class="B" cx="1460" cy="1406" r="18"/></g>
<g id="n-convolution"><circle class="B" cx="1142" cy="1448" r="27"/></g>
<g id="n-b10"><circle class="B" cx="1209" cy="1464" r="18"/></g>
<g id="n-remote-sensing"><circle class="B" cx="873" cy="1505" r="18"/></g>
<g id="n-lstm"><circle class="B" cx="769" cy="1548" r="12"/></g>
<g id="n-time-series-forecasting"><circle class="B" cx="1388" cy="1559" r="22"/></g>
<g id="n-network-architecture"><circle class="B" cx="1683" cy="1527" r="21"/></g>
<g id="n-convolutional-neural-network"><circle class="B" cx="1182" cy="1611" r="22"/></g>
<g id="n-b12"><circle class="B" cx="1469" cy="1611" r="12"/></g>
<g id="n-feature-extraction"><circle class="B" cx="1128" cy="1783" r="11"/></g>
<g id="n-brain"><circle class="C" cx="821" cy="970" r="12"/></g>
<g id="n-decision-making"><circle class="C" cx="1297" cy="964" r="18"/></g>
<g id="n-c1595"><circle class="C" cx="1595" cy="772" r="14"/></g>
<g id="n-energy-utilization"><circle class="R" cx="1913" cy="580" r="76"/></g>
<g id="n-energy-efficiency"><circle class="R" cx="1719" cy="772" r="72"/></g>
<g id="n-deep-learning"><circle class="R" cx="1769" cy="1293" r="86"/></g>
<g id="n-deep-neural-networks"><circle class="R" cx="1792" cy="1096" r="36"/></g>
<g id="n-r1"><circle class="R" cx="1688" cy="1047" r="36"/></g>
<g id="n-r2"><circle class="R" cx="1963" cy="1063" r="27"/></g>
<g id="n-r3"><circle class="R" cx="1415" cy="1006" r="29"/></g>
<g id="n-r4"><circle class="R" cx="1575" cy="988" r="11"/></g>
<g id="n-digital-storage"><circle class="R" cx="1769" cy="930" r="18"/></g>
<g id="n-r5"><circle class="R" cx="1848" cy="1038" r="14"/></g>
<g id="n-r6"><circle class="R" cx="1870" cy="955" r="10"/></g>
<g id="n-energy-consumption"><circle class="R" cx="1967" cy="970" r="16"/></g>
<g id="n-energy-efficient"><circle class="R" cx="2137" cy="817" r="12"/></g>
<g id="n-scheduling"><circle class="R" cx="2236" cy="858" r="12"/></g>
<g id="n-r8"><circle class="R" cx="2218" cy="970" r="16"/></g>
<g id="n-cloud-computing-2"><circle class="R" cx="2434" cy="920" r="14"/></g>
<g id="n-cloud-computing"><circle class="R" cx="2491" cy="970" r="18"/></g>
<g id="n-reinforcement-learning"><circle class="R" cx="2308" cy="1042" r="34"/></g>
<g id="n-r9"><circle class="R" cx="2468" cy="1069" r="14"/></g>
<g id="n-r10"><circle class="R" cx="2572" cy="1078" r="12"/></g>
<g id="n-energy-transfer"><circle class="R" cx="2155" cy="1113" r="14"/></g>
<g id="n-r11"><circle class="R" cx="2335" cy="1131" r="16"/></g>
<g id="n-deep-neural-network"><circle class="R" cx="2056" cy="1158" r="14"/></g>
<g id="n-energy-harvesting"><circle class="R" cx="1846" cy="1203" r="14"/></g>
<g id="n-r12"><circle class="R" cx="2232" cy="1218" r="14"/></g>
<g id="n-scheduling-algorithms"><circle class="R" cx="2532" cy="1185" r="18"/></g>
<g id="n-multitasking"><circle class="R" cx="2430" cy="1239" r="18"/></g>
<g id="n-resource-allocation"><circle class="R" cx="2119" cy="1263" r="27"/></g>
<g id="n-deep-reinforcement-learning"><circle class="R" cx="2505" cy="1290" r="18"/></g>
<g id="n-reinforcement-learnings"><circle class="R" cx="2407" cy="1350" r="14"/></g>
<g id="n-r13"><circle class="R" cx="2218" cy="1338" r="12"/></g>
</g>
<g id="labels">
<text x="1446" y="72" font-size="38" textLength="395" lengthAdjust="spacingAndGlyphs">mathematical models</text>
<text x="1275" y="128" font-size="38" textLength="460" lengthAdjust="spacingAndGlyphs">neuromorphic computing</text>
<text x="1853" y="101" font-size="38" textLength="257" lengthAdjust="spacingAndGlyphs">fuzzy systems</text>
<text x="1742" y="68" font-size="34" textLength="180" lengthAdjust="spacingAndGlyphs" fill-opacity=".08">takagi-sugeno</text>
<text x="497" y="183" font-size="36" textLength="176" lengthAdjust="spacingAndGlyphs">chemistry</text>
<text x="759" y="201" font-size="44" textLength="341" lengthAdjust="spacingAndGlyphs">controlled study</text>
<text x="1042" y="189" font-size="36" textLength="147" lengthAdjust="spacingAndGlyphs">humans</text>
<text x="905" y="158" font-size="30" textLength="60" lengthAdjust="spacingAndGlyphs" fill-opacity=".1">male</text>
<text x="960" y="220" font-size="30" textLength="96" lengthAdjust="spacingAndGlyphs" fill-opacity=".1">human</text>
<text x="1306" y="228" font-size="50" textLength="444" lengthAdjust="spacingAndGlyphs" fill-opacity=".3">threshold switching</text>
<text x="1745" y="198" font-size="58" textLength="551" lengthAdjust="spacingAndGlyphs" fill-opacity=".28">fuzzy neural networks</text>
<text x="2166" y="194" font-size="38" textLength="277" lengthAdjust="spacingAndGlyphs" fill-opacity=".1">predictive control</text>
<text x="1666" y="257" font-size="54" textLength="381" lengthAdjust="spacingAndGlyphs">fuzzy inference</text>
<text x="1243" y="287" font-size="48" textLength="268" lengthAdjust="spacingAndGlyphs">memristors</text>
<text x="2064" y="284" font-size="36" textLength="192" lengthAdjust="spacingAndGlyphs">controllers</text>
<text x="772" y="334" font-size="56" textLength="158" lengthAdjust="spacingAndGlyphs">article</text>
<text x="1796" y="336" font-size="54" textLength="295" lengthAdjust="spacingAndGlyphs">tabu search</text>
<text x="929" y="386" font-size="42" textLength="390" lengthAdjust="spacingAndGlyphs" fill-opacity=".28">anaerobic digestion</text>
<text x="1226" y="395" font-size="40" textLength="163" lengthAdjust="spacingAndGlyphs">neurons</text>
<text x="1896" y="386" font-size="36" textLength="160" lengthAdjust="spacingAndGlyphs" fill-opacity=".33">buildings</text>
<text x="1525" y="418" font-size="62" textLength="356" lengthAdjust="spacingAndGlyphs">optimization</text>
<text x="1796" y="435" font-size="42" textLength="223" lengthAdjust="spacingAndGlyphs" fill-opacity=".65">algorithms</text>
<text x="874" y="458" font-size="38" textLength="165" lengthAdjust="spacingAndGlyphs">methane</text>
<text x="1078" y="442" font-size="36" textLength="262" lengthAdjust="spacingAndGlyphs" fill-opacity=".28">carbon dioxide</text>
<text x="2081" y="470" font-size="44" textLength="462" lengthAdjust="spacingAndGlyphs" fill-opacity=".33">ant colony optimization</text>
<text x="518" y="557" font-size="38" textLength="237" lengthAdjust="spacingAndGlyphs">temperature</text>
<text x="1113" y="550" font-size="38" textLength="332" lengthAdjust="spacingAndGlyphs">renewable energy</text>
<text x="1913" y="602" font-size="70" textLength="539" lengthAdjust="spacingAndGlyphs" fill-opacity=".08">energy utilization</text>
<text x="936" y="692" font-size="40" textLength="420" lengthAdjust="spacingAndGlyphs" fill-opacity=".06">radial basis function</text>
<text x="1490" y="659" font-size="72" textLength="690" lengthAdjust="spacingAndGlyphs">artificial intelligence</text>
<text x="584" y="693" font-size="48" textLength="241" lengthAdjust="spacingAndGlyphs">prediction</text>
<text x="1018" y="727" font-size="42" textLength="210" lengthAdjust="spacingAndGlyphs" fill-opacity=".55">algorithm</text>
<text x="1902" y="713" font-size="34" textLength="92" lengthAdjust="spacingAndGlyphs" fill-opacity=".4">costs</text>
<text x="1723" y="787" font-size="64" textLength="532" lengthAdjust="spacingAndGlyphs" fill-opacity=".72">energy efficiency</text>
<text x="1112" y="835" font-size="88" textLength="729" lengthAdjust="spacingAndGlyphs">neural networks</text>
<text x="341" y="835" font-size="34" textLength="70" lengthAdjust="spacingAndGlyphs">iran</text>
<text x="2140" y="830" font-size="38" textLength="284" lengthAdjust="spacingAndGlyphs" fill-opacity=".22">energy efficient</text>
<text x="1829" y="868" font-size="38" textLength="480" lengthAdjust="spacingAndGlyphs">electric power distribution</text>
<text x="2237" y="885" font-size="38" textLength="198" lengthAdjust="spacingAndGlyphs">scheduling</text>
<text x="263" y="909" font-size="38" textLength="485" lengthAdjust="spacingAndGlyphs">multiple linear regressions</text>
<text x="1169" y="912" font-size="50" textLength="410" lengthAdjust="spacingAndGlyphs" fill-opacity=".65">neural-networks</text>
<text x="405" y="955" font-size="40" textLength="395" lengthAdjust="spacingAndGlyphs" fill-opacity=".06">root mean square error</text>
<text x="689" y="973" font-size="58" textLength="129" lengthAdjust="spacingAndGlyphs">wind</text>
<text x="826" y="979" font-size="36" textLength="93" lengthAdjust="spacingAndGlyphs">brain</text>
<text x="1304" y="979" font-size="38" textLength="296" lengthAdjust="spacingAndGlyphs" fill-opacity=".22">decision making</text>
<text x="1769" y="943" font-size="42" textLength="280" lengthAdjust="spacingAndGlyphs">digital storage</text>
<text x="2434" y="934" font-size="38" textLength="300" lengthAdjust="spacingAndGlyphs" fill-opacity=".15">cloud-computing</text>
<text x="1872" y="984" font-size="32" textLength="153" lengthAdjust="spacingAndGlyphs" fill-opacity=".1">optimization</text>
<text x="2110" y="984" font-size="34" textLength="323" lengthAdjust="spacingAndGlyphs" fill-opacity=".12">energy consumption</text>
<text x="2493" y="981" font-size="42" textLength="334" lengthAdjust="spacingAndGlyphs">cloud computing</text>
<text x="1191" y="1060" font-size="88" textLength="478" lengthAdjust="spacingAndGlyphs">forecasting</text>
<text x="605" y="1038" font-size="44" textLength="266" lengthAdjust="spacingAndGlyphs" fill-opacity=".7">meteorology</text>
<text x="2307" y="1056" font-size="52" textLength="533" lengthAdjust="spacingAndGlyphs" fill-opacity=".7">reinforcement learning</text>
<text x="483" y="1105" font-size="36" textLength="75" lengthAdjust="spacingAndGlyphs">soils</text>
<text x="675" y="1110" font-size="44" textLength="307" lengthAdjust="spacingAndGlyphs">solar radiation</text>
<text x="1266" y="1113" font-size="38" textLength="242" lengthAdjust="spacingAndGlyphs" fill-opacity=".18">data handling</text>
<text x="1794" y="1113" font-size="54" textLength="571" lengthAdjust="spacingAndGlyphs">deep neural networks</text>
<text x="2166" y="1128" font-size="38" textLength="264" lengthAdjust="spacingAndGlyphs" fill-opacity=".28">energy transfer</text>
<text x="2059" y="1173" font-size="38" textLength="383" lengthAdjust="spacingAndGlyphs" fill-opacity=".18">deep neural network</text>
<text x="557" y="1198" font-size="56" textLength="492" lengthAdjust="spacingAndGlyphs">mean square error</text>
<text x="2538" y="1200" font-size="38" textLength="399" lengthAdjust="spacingAndGlyphs">scheduling algorithms</text>
<text x="1245" y="1227" font-size="58" textLength="514" lengthAdjust="spacingAndGlyphs">machine learning</text>
<text x="1884" y="1221" font-size="38" textLength="327" lengthAdjust="spacingAndGlyphs" fill-opacity=".18">energy harvesting</text>
<text x="2428" y="1254" font-size="38" textLength="225" lengthAdjust="spacingAndGlyphs" fill-opacity=".18">multitasking</text>
<text x="2123" y="1281" font-size="44" textLength="413" lengthAdjust="spacingAndGlyphs" fill-opacity=".22">resource allocation</text>
<text x="550" y="1281" font-size="36" textLength="108" lengthAdjust="spacingAndGlyphs">china</text>
<text x="1769" y="1320" font-size="74" textLength="481" lengthAdjust="spacingAndGlyphs">deep learning</text>
<text x="2506" y="1304" font-size="42" textLength="566" lengthAdjust="spacingAndGlyphs">deep reinforcement learning</text>
<text x="645" y="1356" font-size="36" textLength="147" lengthAdjust="spacingAndGlyphs">data set</text>
<text x="1284" y="1369" font-size="56" textLength="312" lengthAdjust="spacingAndGlyphs">time series</text>
<text x="2405" y="1365" font-size="40" textLength="444" lengthAdjust="spacingAndGlyphs">reinforcement learnings</text>
<text x="1457" y="1419" font-size="36" textLength="167" lengthAdjust="spacingAndGlyphs" fill-opacity=".18">big data</text>
<text x="1140" y="1464" font-size="44" textLength="255" lengthAdjust="spacingAndGlyphs">convolution</text>
<text x="872" y="1519" font-size="42" textLength="307" lengthAdjust="spacingAndGlyphs" fill-opacity=".72">remote sensing</text>
<text x="1685" y="1539" font-size="40" textLength="408" lengthAdjust="spacingAndGlyphs">network architecture</text>
<text x="763" y="1559" font-size="30" textLength="70" lengthAdjust="spacingAndGlyphs" fill-opacity=".1">lstm</text>
<text x="1392" y="1577" font-size="42" textLength="449" lengthAdjust="spacingAndGlyphs" fill-opacity=".08">time series forecasting</text>
<text x="1186" y="1622" font-size="44" textLength="620" lengthAdjust="spacingAndGlyphs">convolutional neural network</text>
<text x="1131" y="1796" font-size="38" textLength="320" lengthAdjust="spacingAndGlyphs">feature extraction</text>
</g>
</svg>
